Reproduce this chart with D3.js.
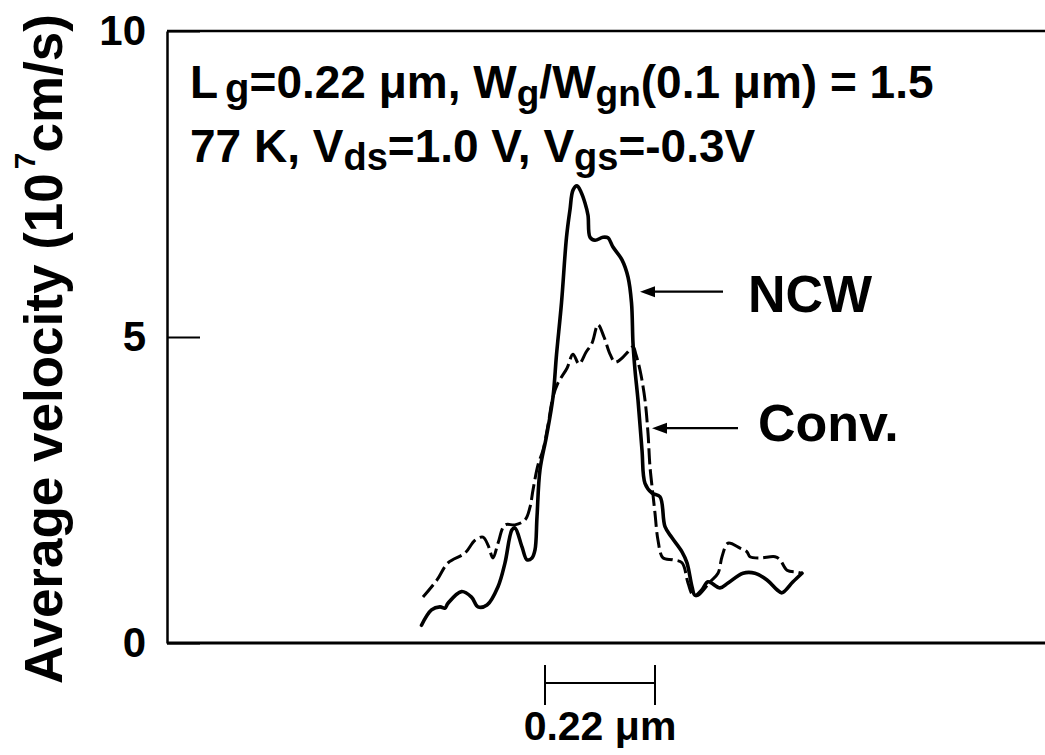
<!DOCTYPE html>
<html>
<head>
<meta charset="utf-8">
<script src="https://cdn.jsdelivr.net/npm/d3@7"></script>
<style>
  html, body { margin: 0; padding: 0; background: #fff; }
  svg { display: block; }
  text { font-family: "Liberation Sans", Arial, Helvetica, sans-serif; font-weight: bold; fill: #000; }
</style>
</head>
<body>
<svg id="chart" width="1045" height="755"></svg>
<script>
// ---- data (x in µm relative to gate edge, y in 10^7 cm/s) ----
const ncwX = [-0.247,-0.227,-0.21,-0.20,-0.194,-0.167,-0.147,-0.134,-0.116,-0.094,-0.08,-0.066,-0.06,-0.046,-0.036,-0.026,-0.02,-0.016,-0.01,0.003,0.016,0.023,0.033,0.043,0.05,0.056,0.064,0.072,0.08,0.086,0.09,0.10,0.116,0.126,0.136,0.154,0.166,0.173,0.176,0.18,0.186,0.194,0.20,0.214,0.23,0.24,0.254,0.274,0.284,0.294,0.30,0.314,0.326,0.35,0.366,0.396,0.42,0.444,0.464,0.474,0.496,0.514];
const ncwY = [0.29,0.54,0.59,0.57,0.65,0.84,0.75,0.59,0.62,0.92,1.31,1.85,1.88,1.57,1.36,1.39,1.52,2.06,2.83,3.38,4.02,4.71,5.56,6.63,7.08,7.40,7.47,7.37,7.19,6.99,6.63,6.58,6.63,6.62,6.47,6.26,5.98,5.56,4.90,4.46,3.97,3.15,2.61,2.45,2.39,1.90,1.72,1.49,1.31,0.92,0.78,0.87,1.00,0.90,0.98,1.14,1.14,1.03,0.87,0.82,1.00,1.14];
const convX = [-0.244,-0.216,-0.194,-0.16,-0.14,-0.124,-0.114,-0.104,-0.094,-0.08,-0.06,-0.04,-0.03,-0.024,-0.014,-0.004,0.006,0.016,0.026,0.044,0.056,0.068,0.082,0.094,0.106,0.118,0.13,0.14,0.152,0.164,0.176,0.182,0.19,0.20,0.206,0.21,0.216,0.22,0.226,0.236,0.256,0.274,0.286,0.296,0.306,0.33,0.346,0.354,0.366,0.39,0.404,0.41,0.43,0.46,0.47,0.484,0.504,0.514];
const convY = [0.75,1.03,1.31,1.47,1.68,1.73,1.60,1.39,1.63,1.93,1.93,2.01,2.22,2.50,2.91,3.15,3.56,4.02,4.25,4.49,4.72,4.56,4.75,4.90,5.20,5.00,4.72,4.59,4.64,4.74,4.84,4.71,4.46,3.97,3.43,2.88,2.42,2.12,1.68,1.39,1.36,1.31,0.98,0.78,0.78,1.00,1.14,1.41,1.63,1.55,1.49,1.41,1.39,1.41,1.36,1.19,1.16,1.14];
const yTicks = [0, 5, 10];
const yTickLabels = ["0", "5", "10"];
const gateStart = 0;
const gateLength = 0.22;
const seriesNames = ["NCW", "Conv."];

// ---- layout ----
const svg = d3.select("#chart");
const W = 1045, H = 755;
const mLeft = 167, mTop = 31, mBottom = 643;

const x = d3.scaleLinear().domain([-0.756, 1.0]).range([mLeft, W]);
const y = d3.scaleLinear().domain([0, 10]).range([mBottom, mTop]);

svg.append("rect").attr("width", W).attr("height", H).attr("fill", "#fff");

// frame: top and bottom lines
svg.append("line").attr("x1", mLeft).attr("x2", W).attr("y1", y(10)).attr("y2", y(10))
  .attr("stroke", "#000").attr("stroke-width", 2.5);
svg.append("line").attr("x1", mLeft).attr("x2", W).attr("y1", y(0)).attr("y2", y(0))
  .attr("stroke", "#000").attr("stroke-width", 3);

// y axis
const yAxis = d3.axisLeft(y)
  .tickValues(yTicks)
  .tickFormat((d, i) => yTickLabels[i])
  .tickSizeInner(-33)
  .tickSizeOuter(0)
  .tickPadding(21);
const gy = svg.append("g").attr("transform", `translate(${mLeft},0)`).call(yAxis);
gy.select(".domain").attr("stroke", "#000").attr("stroke-width", 2.5);
gy.selectAll(".tick line").attr("stroke", "#000").attr("stroke-width", 2);
gy.selectAll(".tick text")
  .style("font-family", "'Liberation Sans', Arial, sans-serif")
  .style("font-weight", "bold")
  .style("font-size", "42px")
  .attr("fill", "#000")
  .attr("dy", "0.33em");

// y label
const yl = svg.append("text")
  .attr("transform", "translate(62,349) rotate(-90)")
  .attr("text-anchor", "middle")
  .style("font-size", "53px");
yl.append("tspan").text("Average velocity  (10");
yl.append("tspan").attr("dx", 4).attr("dy", -27).style("font-size", "30px").text("7");
yl.append("tspan").attr("dy", 27).text("cm/s)");

// curves
const line = d3.line().x(d => x(d[0])).y(d => y(d[1])).curve(d3.curveCatmullRom.alpha(0.5));
const convData = convX.map((v, i) => [v, convY[i]]);
const ncwData = ncwX.map((v, i) => [v, ncwY[i]]);

svg.append("path").datum(convData).attr("d", line)
  .attr("fill", "none").attr("stroke", "#000").attr("stroke-width", 3)
  .attr("stroke-dasharray", "16,5").attr("stroke-linejoin", "round");
svg.append("path").datum(ncwData).attr("d", line)
  .attr("fill", "none").attr("stroke", "#000").attr("stroke-width", 3.6)
  .attr("stroke-linejoin", "round").attr("stroke-linecap", "round");

// arrows + labels
const labels = [
  { name: seriesNames[0], tail: 0.356, head: 0.19, ay: 5.74, tx: 0.406, ty: 5.41 },
  { name: seriesNames[1], tail: 0.386, head: 0.214, ay: 3.51, tx: 0.426, ty: 3.30 }
];
labels.forEach(l => {
  svg.append("line")
    .attr("x1", x(l.tail)).attr("x2", x(l.head) + 12)
    .attr("y1", y(l.ay)).attr("y2", y(l.ay))
    .attr("stroke", "#000").attr("stroke-width", 2.2);
  svg.append("path")
    .attr("d", `M${x(l.head)},${y(l.ay)} L${x(l.head) + 15},${y(l.ay) - 5.5} L${x(l.head) + 15},${y(l.ay) + 5.5} Z`)
    .attr("fill", "#000");
  svg.append("text").attr("x", x(l.tx)).attr("y", y(l.ty))
    .style("font-size", "52px").text(l.name);
});

// annotation text
const a1 = svg.append("text").attr("x", 190).attr("y", 98).style("font-size", "46px");
a1.append("tspan").text("L");
a1.append("tspan").attr("dx", 7).attr("dy", 4).style("font-size", "40px").text("g");
a1.append("tspan").attr("dy", -4).text("=0.22 μm,  W");
a1.append("tspan").attr("dy", 8).style("font-size", "37px").text("g");
a1.append("tspan").attr("dy", -8).text("/W");
a1.append("tspan").attr("dy", 8).style("font-size", "37px").text("gn");
a1.append("tspan").attr("dy", -8).text("(0.1 μm) = 1.5");

const a2 = svg.append("text").attr("x", 190).attr("y", 162).style("font-size", "46px");
a2.append("tspan").text("77 K, V");
a2.append("tspan").attr("dy", 8).style("font-size", "38px").text("ds");
a2.append("tspan").attr("dy", -8).text("=1.0 V, V");
a2.append("tspan").attr("dy", 8).style("font-size", "38px").text("gs");
a2.append("tspan").attr("dy", -8).text("=-0.3V");

// scale bar for gate length
const sb = svg.append("g");
const sbY = 683;
sb.append("line").attr("x1", x(gateStart)).attr("x2", x(gateStart + gateLength))
  .attr("y1", sbY).attr("y2", sbY).attr("stroke", "#000").attr("stroke-width", 2);
[gateStart, gateStart + gateLength].forEach(v => {
  sb.append("line").attr("x1", x(v)).attr("x2", x(v)).attr("y1", 665).attr("y2", 705)
    .attr("stroke", "#000").attr("stroke-width", 2);
});
sb.append("text").attr("x", x(gateStart + gateLength / 2)).attr("y", 740)
  .attr("text-anchor", "middle").style("font-size", "41px").text("0.22 μm");
</script>
</body>
</html>
